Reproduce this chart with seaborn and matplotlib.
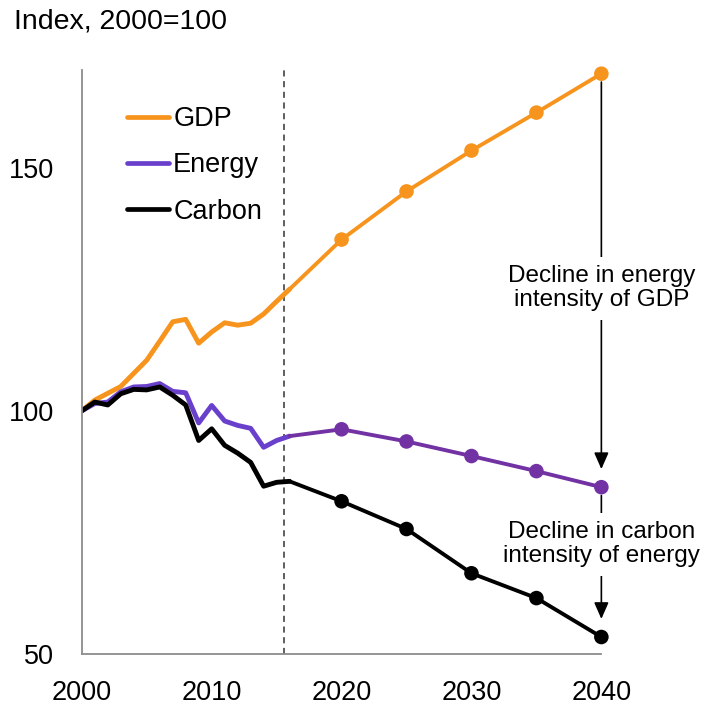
import matplotlib
matplotlib.use('Agg')
import matplotlib.pyplot as plt
from matplotlib.lines import Line2D
import numpy as np
import pandas as pd
import seaborn as sns

# historical data (annual) and outlook points
years_hist = list(range(2000, 2017))
gdp_hist = [100, 102.2, 103.6, 105.0, 107.7, 110.4, 114.3, 118.3, 118.8, 113.9,
            116.2, 118.1, 117.6, 118.0, 119.9, 122.5, 125.0]
energy_hist = [100, 101.5, 101.8, 103.9, 104.9, 105.0, 105.6, 104.0, 103.7, 97.5,
               101.1, 97.9, 97.0, 96.4, 92.5, 93.9, 94.8]
carbon_hist = [100, 101.8, 101.2, 103.5, 104.4, 104.3, 104.9, 103.2, 101.2, 93.9,
               96.3, 92.9, 91.3, 89.4, 84.5, 85.3, 85.5]

years_proj = [2020, 2025, 2030, 2035, 2040]
gdp_proj = [135.2, 145.1, 153.5, 161.3, 169.3]
energy_proj = [96.2, 93.7, 90.7, 87.6, 84.3]
carbon_proj = [81.4, 75.7, 66.6, 61.5, 53.5]

series = ['GDP', 'Energy', 'Carbon']
hist_colors = {'GDP': '#F7941D', 'Energy': '#6940CC', 'Carbon': '#000000'}
proj_colors = {'GDP': '#F7941D', 'Energy': '#7232A4', 'Carbon': '#000000'}
outlook_start = 2015.6

sns.set_theme(style='white')
plt.rcParams['font.family'] = ['Liberation Sans', 'DejaVu Sans']
plt.rcParams['text.color'] = 'black'
plt.rcParams['xtick.color'] = 'black'
plt.rcParams['ytick.color'] = 'black'

hist = pd.DataFrame({'year': years_hist * 3,
                     'value': gdp_hist + energy_hist + carbon_hist,
                     'series': np.repeat(series, len(years_hist))})
proj = pd.DataFrame({'year': years_proj * 3,
                     'value': gdp_proj + energy_proj + carbon_proj,
                     'series': np.repeat(series, len(years_proj))})
# outlook lines start from the last historical year
last = hist[hist['year'] == years_hist[-1]]
proj_line = pd.concat([last, proj], ignore_index=True)

fig = plt.figure(figsize=(7.05, 7.05), dpi=100)
ax = fig.add_axes([0.116, 0.0723, 0.737, 0.828])

sns.lineplot(data=hist, x='year', y='value', hue='series', palette=hist_colors,
             linewidth=3.5, legend=False, ax=ax, sort=True)
sns.lineplot(data=proj_line, x='year', y='value', hue='series', palette=proj_colors,
             linewidth=2.8, legend=False, ax=ax, sort=True)
sns.scatterplot(data=proj, x='year', y='value', hue='series', palette=proj_colors,
                s=110, linewidth=0, legend=False, ax=ax, clip_on=False, zorder=5)

ax.axvline(outlook_start, color='#333333', linestyle=(0, (4, 3)), linewidth=1.1, zorder=1)

ax.set_xlim(2000, 2040)
ax.set_ylim(50, 170)
ax.set_xticks([2000, 2010, 2020, 2030, 2040])
ax.set_yticks([50, 100, 150])
ax.set_xlabel('')
ax.set_ylabel('')
for s in ['top', 'right']:
    ax.spines[s].set_visible(False)
for s in ['left', 'bottom']:
    ax.spines[s].set_color('#8c8c8c')
    ax.spines[s].set_linewidth(1.3)
ax.tick_params(axis='y', direction='in', length=6, color='#8c8c8c', pad=20, labelsize=19.5)
ax.tick_params(axis='x', length=0, pad=19, labelsize=19.5)

# arrows between 2040 values with labels
g40, e40, c40 = gdp_proj[-1], energy_proj[-1], carbon_proj[-1]
arrow = dict(arrowstyle='-|>,head_length=0.5,head_width=0.22', color='black',
             lw=1.2, shrinkA=6, shrinkB=13, mutation_scale=20)
ax.annotate('', xy=(2040, e40), xytext=(2040, g40), arrowprops=arrow, annotation_clip=False)
ax.annotate('', xy=(2040, c40), xytext=(2040, e40), arrowprops=arrow, annotation_clip=False)
box = dict(facecolor='white', edgecolor='none', pad=6)
ax.text(2040, 125.2, 'Decline in energy\nintensity of GDP', ha='center', va='center',
        fontsize=17.5, linespacing=1.15, bbox=box, zorder=6)
ax.text(2040, 72.6, 'Decline in carbon\nintensity of energy', ha='center', va='center',
        fontsize=17.5, linespacing=1.15, bbox=box, zorder=6)

handles = [Line2D([0], [0], color=hist_colors[k], lw=3.4) for k in series]
fig.legend(handles, series, loc='upper left', bbox_to_anchor=(0.165, 0.865),
           frameon=False, fontsize=19.5, handlelength=1.55, handletextpad=0.15,
           labelspacing=0.75, borderaxespad=0)

fig.text(0.02, 0.97, 'Index, 2000=100', fontsize=20.5, ha='left', va='center')

fig.savefig('out.png', dpi=100)
